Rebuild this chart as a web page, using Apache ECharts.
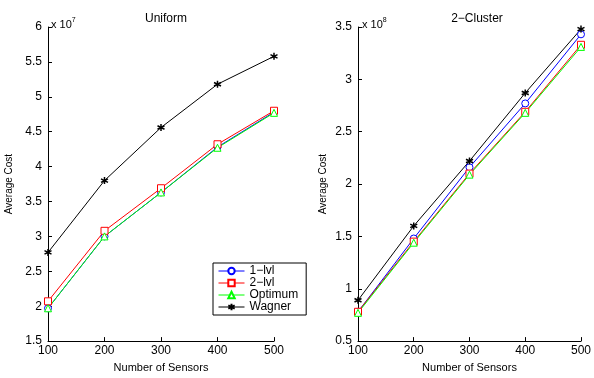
<!DOCTYPE html>
<html>
<head>
<meta charset="utf-8">
<script src="https://cdn.jsdelivr.net/npm/echarts@6/dist/echarts.min.js"></script>
<style>
  html, body { margin: 0; padding: 0; background: #fff; }
  #chart { width: 594px; height: 378px; }
</style>
</head>
<body>
<div id="chart"></div>
<script>
// x axis categories (number of sensors)
const sensors = [100, 200, 300, 400, 500];

// Uniform, in units of 1e7
const uniOneLvl = [1.97, 3.00, 3.63, 4.28, 4.78];
const uniTwoLvl = [2.07, 3.08, 3.69, 4.32, 4.80];
const uniOptimum = [1.97, 3.00, 3.63, 4.27, 4.77];
const uniWagner = [2.77, 3.80, 4.56, 5.18, 5.58];

// 2-Cluster, in units of 1e8
const cluOneLvl = [0.78, 1.48, 2.16, 2.77, 3.43];
const cluTwoLvl = [0.78, 1.45, 2.10, 2.69, 3.33];
const cluOptimum = [0.77, 1.44, 2.09, 2.68, 3.31];
const cluWagner = [0.89, 1.60, 2.22, 2.87, 3.48];

const chart = echarts.init(document.getElementById('chart'));

const font = 'Liberation Sans, Arial, sans-serif';
const star = 'path://M0,-1L0,1M-0.87,-0.5L0.87,0.5M-0.87,0.5L0.87,-0.5M0,-1';

function pairs(vals) {
  return sensors.map((s, i) => [s, vals[i]]);
}

// hollow markers: white fill, coloured outline (like MATLAB's open markers)
function makeSeries(name, vals, idx, color, symbol) {
  const isStar = symbol === star;
  return {
    name: name,
    type: 'line',
    xAxisIndex: idx,
    yAxisIndex: idx,
    data: pairs(vals),
    symbol: symbol,
    symbolSize: 7,
    lineStyle: { color: color, width: 1 },
    itemStyle: isStar
      ? { color: color, borderColor: color, borderWidth: 1.5 }
      : { color: '#fff', borderColor: color, borderWidth: 1 },
    emphasis: { disabled: true },
    animation: false,
  };
}

function xAxis(idx) {
  return {
    gridIndex: idx,
    type: 'value',
    min: 100,
    max: 500,
    interval: 100,
    name: 'Number of Sensors',
    nameLocation: 'middle',
    nameGap: 14,
    nameTextStyle: { color: '#000', fontSize: 11, fontFamily: font },
    axisLine: { lineStyle: { color: '#000', width: 1 } },
    axisTick: { inside: true, length: 4, lineStyle: { color: '#000' } },
    axisLabel: { color: '#000', fontSize: 12, fontFamily: font, margin: 4 },
    splitLine: { show: false },
  };
}

function yAxis(idx, min, max, gap) {
  return {
    gridIndex: idx,
    type: 'value',
    min: min,
    max: max,
    interval: 0.5,
    name: 'Average Cost',
    nameLocation: 'middle',
    nameRotate: 90,
    nameGap: gap,
    nameTextStyle: { color: '#000', fontSize: 10, fontFamily: font },
    axisLine: { show: true, lineStyle: { color: '#000', width: 1 } },
    axisTick: { show: true, inside: true, length: 4, lineStyle: { color: '#000' } },
    axisLabel: { color: '#000', fontSize: 12, fontFamily: font, margin: 6 },
    splitLine: { show: false },
  };
}

const option = {
  backgroundColor: '#fff',
  animation: false,
  title: [
    { text: 'Uniform', left: 161, top: 8, textAlign: 'center',
      textStyle: { fontSize: 12, fontWeight: 'normal', color: '#000', fontFamily: font } },
    { text: '2\u2212Cluster', left: 472, top: 8, textAlign: 'center',
      textStyle: { fontSize: 12, fontWeight: 'normal', color: '#000', fontFamily: font } },
    { text: 'x 10{s|7}', left: 46, top: 12,
      textStyle: { fontSize: 11, fontWeight: 'normal', color: '#000', fontFamily: font,
        rich: { s: { fontSize: 7, verticalAlign: 'top', padding: [0, 0, 8, 0] } } } },
    { text: 'x 10{s|8}', left: 357, top: 12,
      textStyle: { fontSize: 11, fontWeight: 'normal', color: '#000', fontFamily: font,
        rich: { s: { fontSize: 7, verticalAlign: 'top', padding: [0, 0, 8, 0] } } } },
  ],
  legend: {
    data: ['1\u2212lvl', '2\u2212lvl', 'Optimum', 'Wagner'],
    orient: 'vertical',
    left: 213,
    top: 263,
    itemWidth: 26,
    itemHeight: 8,
    itemGap: 0,
    padding: [2, 8, 2, 5],
    borderColor: '#000',
    borderWidth: 1,
    backgroundColor: '#fff',
    lineStyle: { width: 1 },
    textStyle: { fontSize: 12, color: '#000', fontFamily: font, padding: [0, 0, 0, 0] },
  },
  grid: [
    { left: 48, right: 320, top: 27, bottom: 26 },
    { left: 358, right: 8, top: 27, bottom: 26 },
  ],
  xAxis: [xAxis(0), xAxis(1)],
  yAxis: [yAxis(0, 1.5, 6, 34), yAxis(1, 0.5, 3.5, 30)],
  series: [
    makeSeries('1\u2212lvl', uniOneLvl, 0, '#0000ff', 'circle'),
    makeSeries('2\u2212lvl', uniTwoLvl, 0, '#ff0000', 'rect'),
    makeSeries('Optimum', uniOptimum, 0, '#00ff00', 'triangle'),
    makeSeries('Wagner', uniWagner, 0, '#000000', star),
    makeSeries('1\u2212lvl', cluOneLvl, 1, '#0000ff', 'circle'),
    makeSeries('2\u2212lvl', cluTwoLvl, 1, '#ff0000', 'rect'),
    makeSeries('Optimum', cluOptimum, 1, '#00ff00', 'triangle'),
    makeSeries('Wagner', cluWagner, 1, '#000000', star),
  ],
};

chart.setOption(option);
</script>
</body>
</html>
